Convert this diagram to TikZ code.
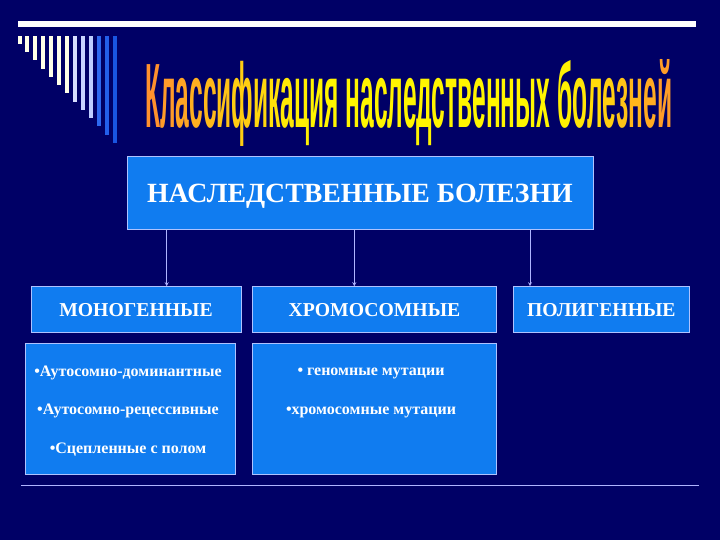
\documentclass[tikz,border=0pt]{standalone}
\usepackage{fontspec}
\setmainfont{Liberation Serif}
\newfontfamily\titlefont{Liberation Sans}

\definecolor{bgnavy}{RGB}{0,0,102}
\definecolor{boxblue}{RGB}{16,124,240}
\definecolor{boxline}{RGB}{175,195,255}
\definecolor{linklav}{RGB}{175,180,255}
\definecolor{titleorange}{RGB}{255,145,45}
\definecolor{titleyellow}{RGB}{255,245,0}
\newcommand{\tc}[2]{\textcolor{titleyellow!#1!titleorange}{#2}}

\begin{document}
\begin{tikzpicture}[x=1pt,y=-1pt,>=stealth]
\tikzstyle{box}=[draw=boxline, fill=boxblue, line width=1pt, text=white, inner sep=0pt, text depth=0pt]
\tikzstyle{head}=[font=\bfseries\fontsize{19.7}{22}\selectfont]
\tikzstyle{listtext}=[text=white, font=\bfseries\fontsize{16}{38.5}\selectfont, align=center]
\tikzstyle{link}=[draw=linklav, line width=0.8pt, ->]
\useasboundingbox (0,0) rectangle (720,540);
\fill[bgnavy] (0,0) rectangle (720,540);

% top bar and stripes
\fill[white] (18,21) rectangle (696,27);
\foreach \i/\c in {0/{255,255,232},1/{255,255,232},2/{255,255,232},3/{255,255,232},4/{255,255,232},5/{255,255,232},6/{255,255,232},7/{215,222,255},8/{200,212,255},9/{190,205,255},10/{45,105,240},11/{35,95,235},12/{25,85,225}}
{
  \definecolor{stripe}{RGB}{\c}
  \fill[stripe] (17.5+7.95*\i,36) rectangle (21.5+7.95*\i,44+8.25*\i);
}

% title
\node[anchor=base west, inner sep=0pt] (title) at (145,128) {\resizebox{527pt}{68pt}{\titlefont\bfseries
  \tc{0}{К}\tc{10}{л}\tc{20}{а}\tc{30}{с}\tc{40}{с}\tc{50}{и}\tc{60}{ф}\tc{70}{и}\tc{80}{к}\tc{88}{а}\tc{94}{ц}\tc{100}{ия}
  \tc{100}{наследственных}
  \tc{95}{б}\tc{85}{о}\tc{75}{л}\tc{62}{е}\tc{50}{з}\tc{38}{н}\tc{25}{е}\tc{12}{й}}};

% boxes
\node[box, minimum width=466pt, minimum height=73pt, font=\bfseries\fontsize{27.8}{30}\selectfont] (main) at (360,193.5) {НАСЛЕДСТВЕННЫЕ БОЛЕЗНИ};
\node[box, head, minimum width=210pt, minimum height=45.6pt] (mono) at (136,309.5) {МОНОГЕННЫЕ};
\node[box, head, minimum width=244.4pt, minimum height=45.6pt] (chromo) at (374.5,309.5) {ХРОМОСОМНЫЕ};
\node[box, head, minimum width=176pt, minimum height=45.6pt] (poly) at (601.3,309.5) {ПОЛИГЕННЫЕ};
\node[box, minimum width=210pt, minimum height=130.7pt] (monolist) at (130.7,408.7) {};
\node[box, minimum width=244.4pt, minimum height=130.7pt] (chromolist) at (374.5,408.7) {};

\node[listtext] (monotext) at (128,411)
  {\textbullet Аутосомно-доминантные\\\textbullet Аутосомно-рецессивные\\\textbullet Сцепленные с полом};
\node[listtext] (chromotext) at (371,393)
  {\textbullet{} геномные мутации\\\textbullet хромосомные мутации};

% arrows
\coordinate (a1) at (166.7,0);
\coordinate (a2) at (354.3,0);
\coordinate (a3) at (530,0);
\draw[link] (main.south -| a1) -- (mono.north -| a1);
\draw[link] (main.south -| a2) -- (chromo.north -| a2);
\draw[link] (main.south -| a3) -- (poly.north -| a3);

% bottom line
\draw[linklav, line width=1.5pt] (21,485.7) -- (699,485.7);
\end{tikzpicture}
\end{document}
